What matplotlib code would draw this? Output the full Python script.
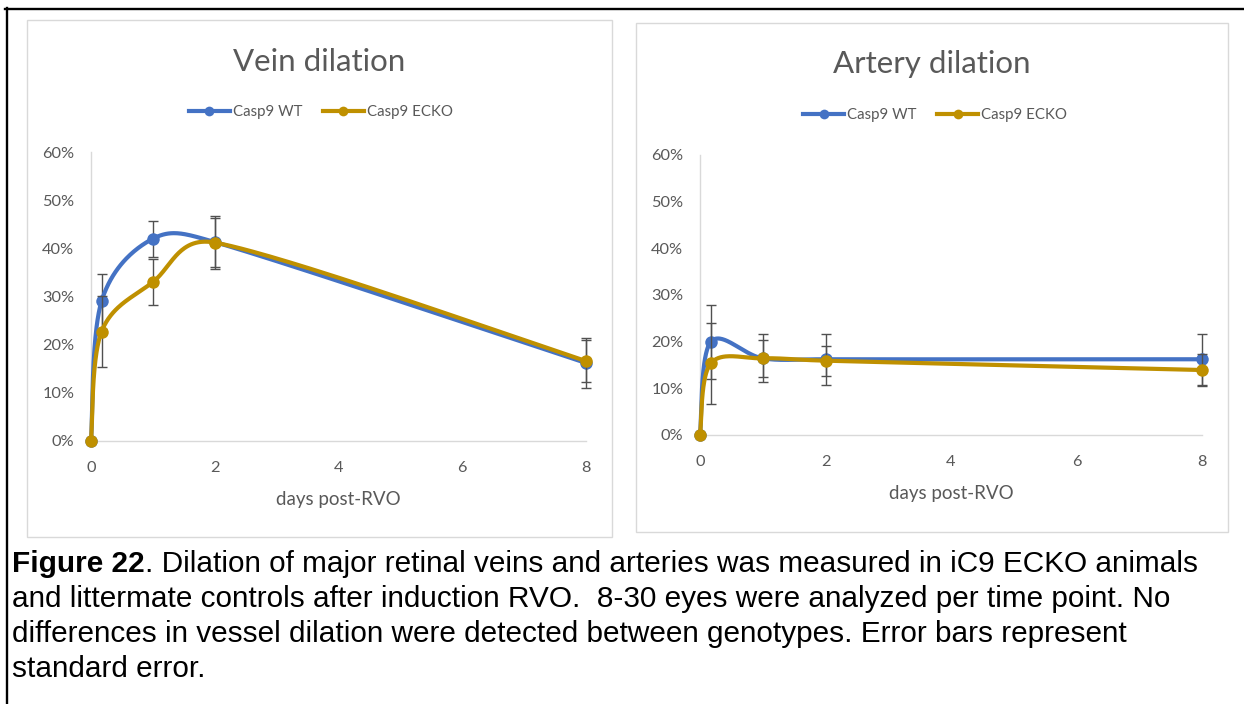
import numpy as np
import matplotlib
matplotlib.use("Agg")
import matplotlib.pyplot as plt
from matplotlib.patches import Rectangle
from matplotlib.lines import Line2D

# ---------------- data ----------------
days = [0, 0.17, 1, 2, 8]
x_ticks = [0, 2, 4, 6, 8]
y_ticks = [0, 10, 20, 30, 40, 50, 60]
y_tick_labels = ["0%", "10%", "20%", "30%", "40%", "50%", "60%"]
series_names = ["Casp9 WT", "Casp9 ECKO"]
titles = ["Vein dilation", "Artery dilation"]
x_label = "days post-RVO"

vein_wt = [0, 29.0, 42.0, 41.3, 16.2]
vein_wt_err = [0, 5.7, 3.7, 5.5, 5.2]
vein_ecko = [0, 22.7, 33.0, 41.2, 16.6]
vein_ecko_err = [0, 7.4, 4.8, 5.1, 4.3]

artery_wt = [0, 19.9, 16.4, 16.2, 16.2]
artery_wt_err = [0, 8.0, 5.1, 5.4, 5.5]
artery_ecko = [0, 15.3, 16.4, 15.9, 13.9]
artery_ecko_err = [0, 8.7, 3.9, 3.2, 3.4]

caption_bold = "Figure 22"
caption_lines = [
    ". Dilation of major retinal veins and arteries was measured in iC9 ECKO animals",
    "and littermate controls after induction RVO.  8-30 eyes were analyzed per time point. No",
    "differences in vessel dilation were detected between genotypes. Error bars represent",
    "standard error.",
]

# ---------------- style ----------------
W, H = 1244, 704
BLUE = "#4472C4"
GOLD = "#BF9000"
GREY_TXT = "#595959"
ERR = "#505050"
AXLINE = "#D9D9D9"
CHART_FONT = ["Lato", "DejaVu Sans"]
CAP_FONT = ["Liberation Sans", "DejaVu Sans"]

fig = plt.figure(figsize=(W / 100, H / 100), dpi=100)
fig.patch.set_facecolor("white")


def fx(px):
    return px / W


def fy(py):
    return 1 - py / H


def _handle(pa, pb, seg_len):
    v = (pb - pa) / 6.0
    L = np.hypot(*v)
    cap = seg_len / 2.0
    if L > cap and L > 0:
        v = v * cap / L
    return v


def excel_smooth(ax, xs, ys, n=60):
    """Excel-style smoothed line (Bezier, tension 1/6, handles capped at half segment)."""
    pts = ax.transData.transform(np.column_stack([xs, ys]))
    m = len(pts)
    out = []
    t = np.linspace(0, 1, n)[:, None]
    for i in range(m - 1):
        p0 = pts[max(i - 1, 0)]
        p1 = pts[i]
        p2 = pts[i + 1]
        p3 = pts[min(i + 2, m - 1)]
        seg_len = np.hypot(*(p2 - p1))
        c1 = p1 + _handle(p0, p2, seg_len)
        c2 = p2 - _handle(p1, p3, seg_len)
        seg = (1 - t) ** 3 * p1 + 3 * (1 - t) ** 2 * t * c1 + 3 * (1 - t) * t ** 2 * c2 + t ** 3 * p2
        out.append(seg if i == 0 else seg[1:])
    return ax.transData.inverted().transform(np.vstack(out))


panels = [
    dict(box=(27, 20, 612, 537), ax=(91, 586, 152, 441), title=titles[0], title_base=71,
         legend=(321, 112), xlabel_y=500,
         data=[(vein_wt, vein_wt_err, BLUE), (vein_ecko, vein_ecko_err, GOLD)]),
    dict(box=(636, 23, 1228, 532), ax=(700, 1202, 154.5, 435), title=titles[1], title_base=72.5,
         legend=(935, 115), xlabel_y=493,
         data=[(artery_wt, artery_wt_err, BLUE), (artery_ecko, artery_ecko_err, GOLD)]),
]

for p in panels:
    bx0, by0, bx1, by1 = p["box"]
    fig.add_artist(Rectangle((fx(bx0), fy(by1)), (bx1 - bx0) / W, (by1 - by0) / H,
                             transform=fig.transFigure, fill=False, ec=AXLINE, lw=1.0))
    x0, x1, ytop, ybot = p["ax"]
    ax = fig.add_axes([fx(x0), fy(ybot), (x1 - x0) / W, (ybot - ytop) / H])
    ax.set_xlim(0, 8)
    ax.set_ylim(0, 60)
    ax.set_xticks(x_ticks)
    ax.set_xticklabels([str(v) for v in x_ticks])
    ax.set_yticks(y_ticks)
    ax.set_yticklabels(y_tick_labels)
    for s in ["top", "right"]:
        ax.spines[s].set_visible(False)
    for s in ["left", "bottom"]:
        ax.spines[s].set_color(AXLINE)
        ax.spines[s].set_linewidth(1.0)
    ax.tick_params(axis="both", length=0, labelsize=11.8, labelcolor=GREY_TXT)
    ax.tick_params(axis="x", pad=14.5)
    ax.tick_params(axis="y", pad=12)
    for lab in ax.get_xticklabels() + ax.get_yticklabels():
        lab.set_fontfamily(CHART_FONT)
    ax.patch.set_alpha(0)

    for k, (vals, errs, col) in enumerate(p["data"]):
        ax.errorbar(days, vals, yerr=errs, fmt="none", ecolor=ERR, elinewidth=1.0,
                    capsize=3.3, capthick=1.0, zorder=3 + k * 3, clip_on=False)
        curve = excel_smooth(ax, days, vals)
        ax.plot(curve[:, 0], curve[:, 1], color=col, lw=3.0, solid_capstyle="round",
                solid_joinstyle="round", zorder=4 + k * 3, clip_on=False)
        ax.plot(days, vals, linestyle="none", marker="o", markersize=9.0, color=col,
                markeredgewidth=0, zorder=5 + k * 3, clip_on=False)

    fig.text(fx((bx0 + bx1) / 2), fy(p["title_base"]), p["title"], ha="center", va="baseline",
             fontsize=22.5, color=GREY_TXT, family=CHART_FONT)
    fig.text(fx((x0 + x1) / 2), fy(p["xlabel_y"]), x_label, ha="center", va="center",
             fontsize=13.5, color=GREY_TXT, family=CHART_FONT)

    handles = [Line2D([], [], color=c, lw=3.0, marker="o", markersize=7.0, markeredgewidth=0)
               for (_, _, c) in p["data"]]
    leg = fig.legend(handles, series_names, loc="center", ncol=2, frameon=False,
                     bbox_to_anchor=(fx(p["legend"][0]), fy(p["legend"][1])),
                     prop={"family": CHART_FONT, "size": 10.8}, labelcolor=GREY_TXT,
                     handlelength=2.7, handletextpad=0.2, columnspacing=1.4,
                     borderaxespad=0, borderpad=0)

# ---------------- outer border ----------------
fig.add_artist(Line2D([fx(5), fx(1244)], [fy(9), fy(9)], transform=fig.transFigure,
                      color="black", lw=1.7))
fig.add_artist(Line2D([fx(6.5), fx(6.5)], [fy(8), fy(704)], transform=fig.transFigure,
                      color="black", lw=1.7))

# ---------------- caption ----------------
renderer = fig.canvas.get_renderer()
base = 20.0
tb = fig.text(0, 0, caption_bold, fontsize=base, fontweight="bold", family=CAP_FONT)
tr = fig.text(0, 0, caption_lines[0], fontsize=base, family=CAP_FONT)
wtot = tb.get_window_extent(renderer).width + tr.get_window_extent(renderer).width
tb.remove()
tr.remove()
fs = base * 1183.0 / wtot

cap_x = 12
baselines = [572, 607, 642, 677]
tb = fig.text(fx(cap_x), fy(baselines[0]), caption_bold, fontsize=fs, fontweight="bold",
              family=CAP_FONT, va="baseline", ha="left", color="black")
wb = tb.get_window_extent(renderer).width
fig.text(fx(cap_x + wb), fy(baselines[0]), caption_lines[0], fontsize=fs, family=CAP_FONT,
         va="baseline", ha="left", color="black")
for line, bl in zip(caption_lines[1:], baselines[1:]):
    fig.text(fx(cap_x), fy(bl), line, fontsize=fs, family=CAP_FONT, va="baseline",
             ha="left", color="black")

fig.savefig("out.png", dpi=100, facecolor="white")
